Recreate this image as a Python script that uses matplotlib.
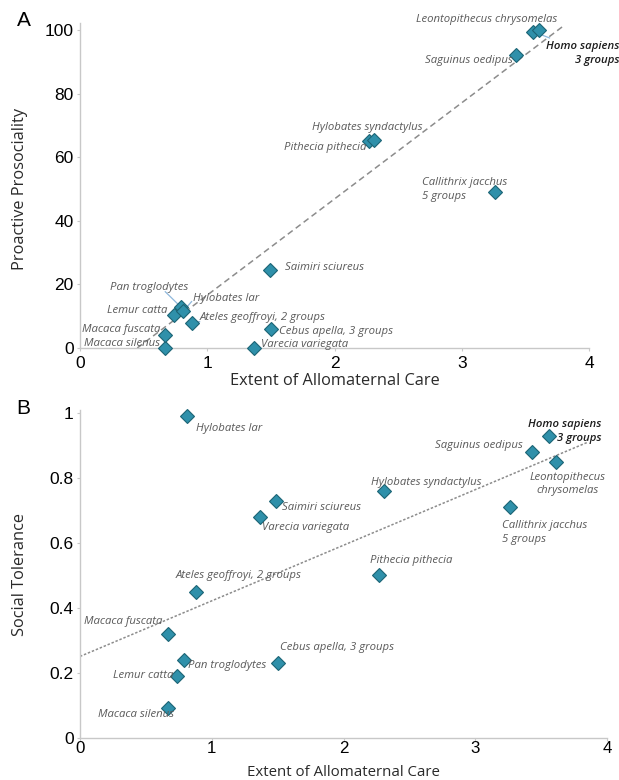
import matplotlib
matplotlib.use('Agg')
import matplotlib.pyplot as plt

# ---------------- data ----------------
species = ['Macaca silenus', 'Macaca fuscata', 'Lemur catta', 'Pan troglodytes',
           'Hylobates lar', 'Ateles geoffroyi', 'Varecia variegata', 'Saimiri sciureus',
           'Cebus apella', 'Pithecia pithecia', 'Hylobates syndactylus',
           'Callithrix jacchus', 'Saguinus oedipus', 'Homo sapiens',
           'Leontopithecus chrysomelas']
care = [0.67, 0.67, 0.74, 0.79, 0.81, 0.88, 1.37, 1.49, 1.50, 2.27, 2.31,
        3.26, 3.43, 3.56, 3.61]
prosociality = [0, 4, 10.5, 13, 11.5, 8, 0, 24.5, 6, 65, 65.5, 49, 92, 99.5, 100]
tolerance = [0.09, 0.32, 0.19, 0.24, 0.99, 0.45, 0.68, 0.73, 0.23, 0.50, 0.76,
             0.71, 0.88, 0.93, 0.85]

labels_a = ['Macaca silenus', 'Macaca fuscata', 'Lemur catta', 'Pan troglodytes',
            'Hylobates lar', 'Ateles geoffroyi, 2 groups', 'Varecia variegata',
            'Saimiri sciureus', 'Cebus apella, 3 groups', 'Pithecia pithecia',
            'Hylobates syndactylus', 'Callithrix jacchus\n5 groups', 'Saguinus oedipus',
            'Homo sapiens\n3 groups', 'Leontopithecus chrysomelas']
labels_b = ['Macaca silenus', 'Macaca fuscata', 'Lemur catta', 'Pan troglodytes',
            'Hylobates lar', 'Ateles geoffroyi, 2 groups', 'Varecia variegata',
            'Saimiri sciureus', 'Cebus apella, 3 groups', 'Pithecia pithecia',
            'Hylobates syndactylus', 'Callithrix jacchus\n5 groups', 'Saguinus oedipus',
            'Homo sapiens\n3 groups', 'Leontopithecus\nchrysomelas']

# trend lines (as drawn in the original)
trend_a_x = [0.45, 3.79]
trend_a_y = [0.0, 101.0]
trend_b_x = [0.0, 3.85]
trend_b_y = [0.25, 0.91]

x_ticks = [0, 1, 2, 3, 4]
a_ticks = [0, 20, 40, 60, 80, 100]
b_ticks = [0, 0.2, 0.4, 0.6, 0.8, 1]
b_ticklabels = ['0', '0.2', '0.4', '0.6', '0.8', '1']

# ---------------- layout (label placement) ----------------
pos_a = [(0.628, 1.3, 'right'), (0.628, 5.9, 'right'), (0.685, 11.9, 'right'),
         (0.236, 19.1, 'left'), (0.89, 15.6, 'left'), (0.943, 9.5, 'left'),
         (1.42, 1.2, 'left'), (1.61, 25.4, 'left'), (1.56, 5.2, 'left'),
         (2.25, 63.0, 'right'), (2.69, 69.4, 'right'), (2.69, 49.8, 'left'),
         (3.40, 90.3, 'right'), (4.24, 92.6, 'right'), (3.75, 103.4, 'right')]
pos_b = [(0.711, 0.07, 'right'), (0.628, 0.358, 'right'), (0.711, 0.191, 'right'),
         (0.816, 0.221, 'left'), (0.88, 0.954, 'left'), (0.726, 0.499, 'left'),
         (1.385, 0.647, 'left'), (1.535, 0.708, 'left'), (1.52, 0.277, 'left'),
         (2.20, 0.546, 'left'), (2.21, 0.785, 'left'), (3.20, 0.633, 'left'),
         (3.36, 0.90, 'right'), (3.96, 0.943, 'right'), (3.70, 0.782, 'center')]
# leader lines in panel A: (species index, label-end point)
leaders_a = [(3, (0.67, 17.7)), (4, (0.877, 14.6)), (5, (0.94, 8.3)), (13, (3.69, 97.5))]

W, H = 619, 780
fig = plt.figure(figsize=(W / 100, H / 100), dpi=100)

def rect(l, t, r, b):
    return [l / W, 1 - b / H, (r - l) / W, (b - t) / H]

ax_a = fig.add_axes(rect(80, 23, 589, 348))
ax_b = fig.add_axes(rect(80, 410, 607, 737.5))

face = '#2f90aa'
edge = '#1c6475'
spine_c = '#c8c8c8'
label_c = '#5a5a5a'

def style(ax, xpad, xsize, xlen):
    for s in ['top', 'right']:
        ax.spines[s].set_visible(False)
    for s in ['left', 'bottom']:
        ax.spines[s].set_color(spine_c)
        ax.spines[s].set_linewidth(1.0)
    ax.tick_params(length=2.5, width=0.8, color=spine_c, labelsize=12.5,
                   labelcolor='black', pad=2)
    ax.tick_params(axis='x', pad=xpad, labelsize=xsize, length=xlen)
    ax.set_xlim(0, 4)
    ax.set_xticks(x_ticks)
    ax.set_xticklabels([str(v) for v in x_ticks], fontfamily='Liberation Sans')

def annotate(ax, labels, pos):
    for lab, (tx, ty, ha) in zip(labels, pos):
        bold = lab.startswith('Homo')
        ax.text(tx, ty, lab, ha=ha, va='center', multialignment=ha,
                fontsize=8.2, fontstyle='italic', fontfamily='Open Sans',
                fontweight='semibold' if bold else 'normal',
                color='#1e1e1e' if bold else label_c, linespacing=1.35,
                clip_on=False, zorder=4)

# ---------------- panel A ----------------
style(ax_a, 3.5, 12.5, 2.5)
ax_a.set_ylim(0, 102.2)
ax_a.set_yticks(a_ticks)
ax_a.set_yticklabels([str(v) for v in a_ticks], fontfamily='Liberation Sans')
ax_a.plot(trend_a_x, trend_a_y, ls=(0, (4, 2.5)), color='#8c8c8c', lw=1.1, zorder=2)
for idx, (lx, ly) in leaders_a:
    ax_a.plot([lx, care[idx]], [ly, prosociality[idx]], color='#8fb8dc', lw=0.9, zorder=2)
ax_a.plot(care, prosociality, ls='none', marker='D', ms=6.8, mfc=face, mec=edge,
          mew=0.8, zorder=3, clip_on=False)
annotate(ax_a, labels_a, pos_a)

# ---------------- panel B ----------------
style(ax_b, 0.5, 12.2, 2.0)
ax_b.set_ylim(0, 1.01)
ax_b.set_yticks(b_ticks)
ax_b.set_yticklabels(b_ticklabels, fontfamily='Liberation Sans')
ax_b.plot(trend_b_x, trend_b_y, ls=(0, (1.6, 1.2)), color='#8c8c8c', lw=1.1, zorder=2)
ax_b.plot(care, tolerance, ls='none', marker='D', ms=6.8, mfc=face, mec=edge,
          mew=0.8, zorder=3, clip_on=False)
annotate(ax_b, labels_b, pos_b)

# ---------------- axis titles / panel letters ----------------
def ftext(x, y, s, **kw):
    fig.text(x / W, 1 - y / H, s, **kw)

ftext(334.5, 381, 'Extent of Allomaternal Care', ha='center', va='center',
      fontsize=11.8, fontfamily='Open Sans', color='#2a2a2a')
ftext(343.5, 779.8, 'Extent of Allomaternal Care', ha='center', va='bottom',
      fontsize=10.8, fontfamily='Open Sans', color='#2a2a2a')
ftext(20, 189, 'Proactive Prosociality', ha='center', va='center', rotation=90,
      fontsize=11.8, fontfamily='Open Sans', color='#2a2a2a')
ftext(20, 575, 'Social Tolerance', ha='center', va='center', rotation=90,
      fontsize=11.8, fontfamily='Open Sans', color='#2a2a2a')
ftext(23.5, 21, 'A', ha='center', va='center', fontsize=15,
      fontfamily='Liberation Sans', color='black')
ftext(23.5, 409, 'B', ha='center', va='center', fontsize=15,
      fontfamily='Liberation Sans', color='black')

fig.savefig('out.png', dpi=100)
